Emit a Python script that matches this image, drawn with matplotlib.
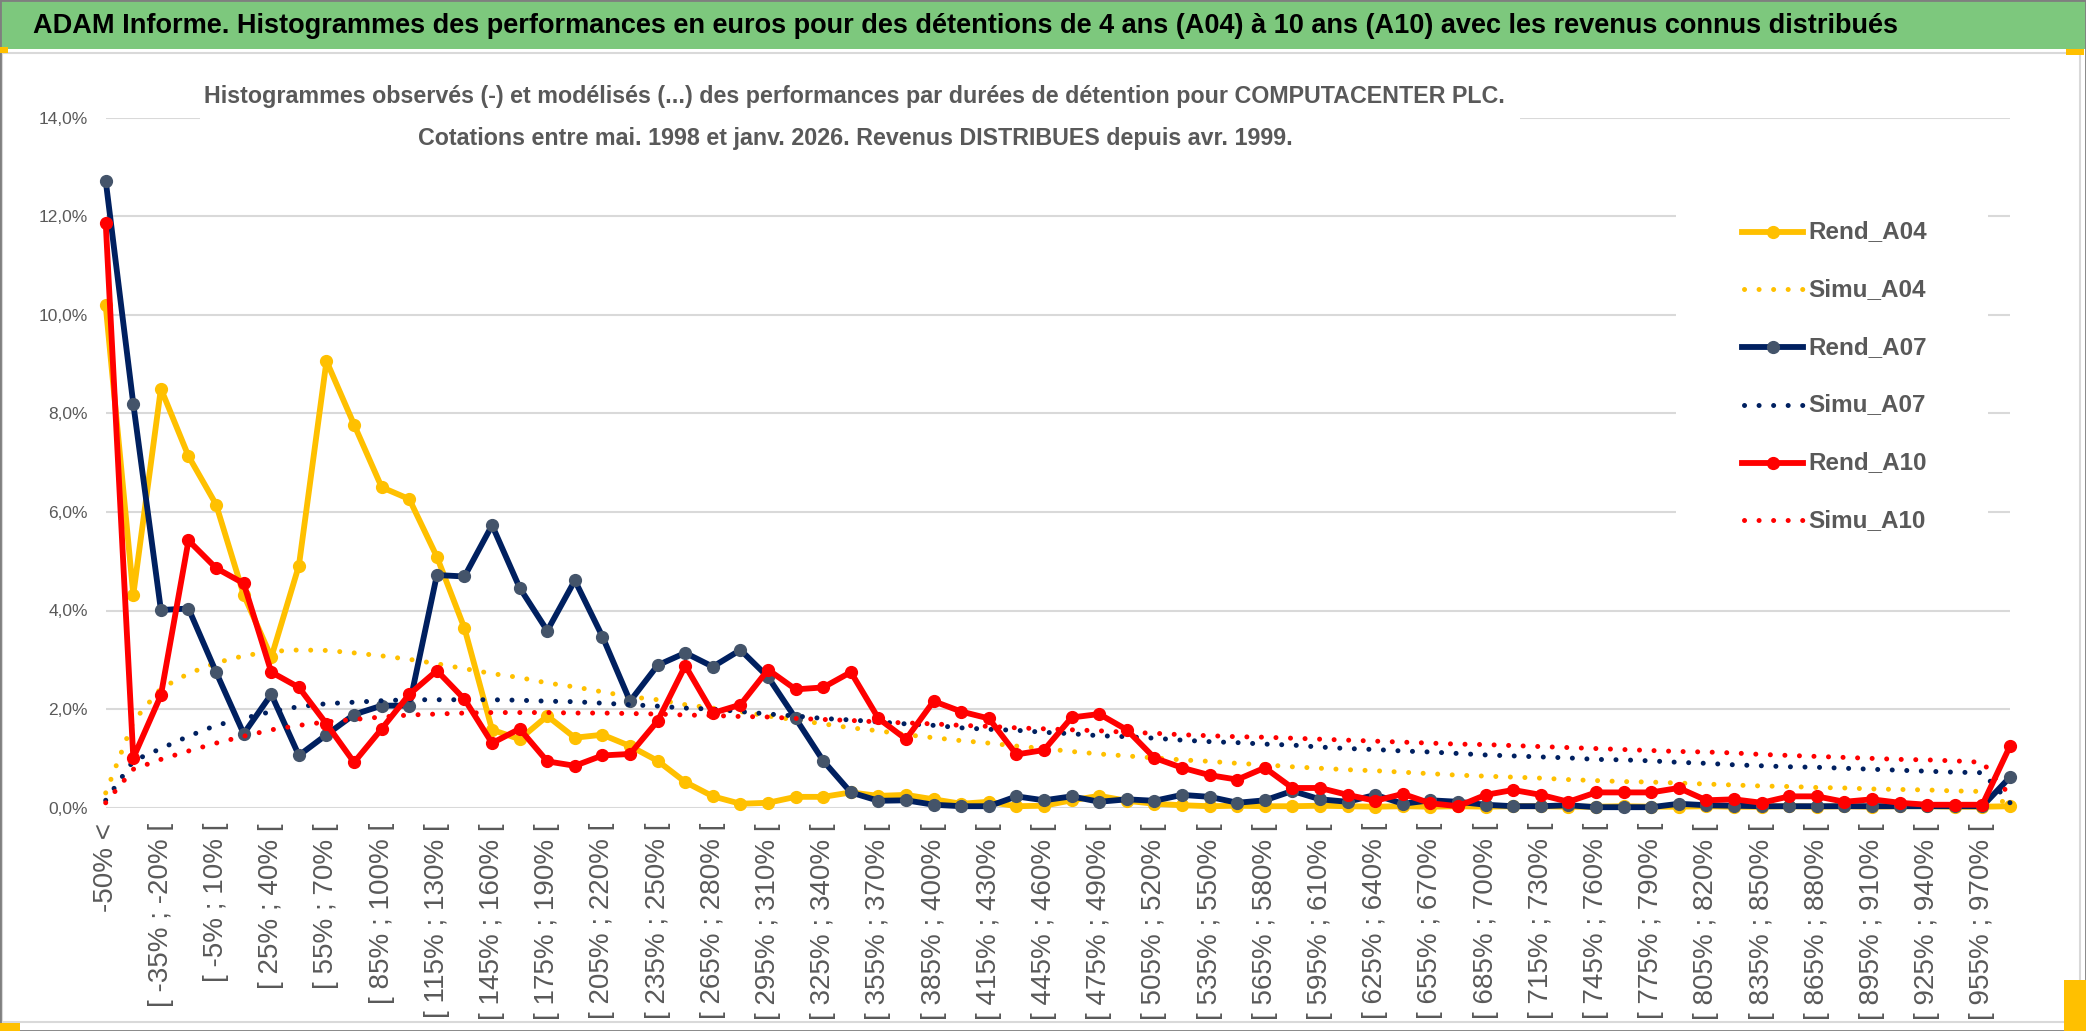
import matplotlib
matplotlib.use("Agg")
import numpy as np
import matplotlib.pyplot as plt
from matplotlib.lines import Line2D
from matplotlib.patches import Rectangle

# categories: "-50% <", then 15% wide buckets, last one open
labels = ["-50% <"] + ["[ %d%% ; %d%% [" % (a, a + 15) for a in range(-50, 970, 15)] + ["970% <"]

# values in %
rend_a04 = [10.19, 4.32, 8.50, 7.13, 6.15, 4.32, 3.05, 4.91, 9.06, 7.77,
            6.50, 6.26, 5.09, 3.64, 1.58, 1.39, 1.86, 1.42, 1.48, 1.25,
            0.95, 0.52, 0.23, 0.08, 0.10, 0.22, 0.22, 0.31, 0.24, 0.26,
            0.17, 0.08, 0.12, 0.03, 0.04, 0.15, 0.24, 0.14, 0.08, 0.05,
            0.03, 0.04, 0.03, 0.03, 0.04, 0.03, 0.02, 0.03, 0.02, 0.03,
            0.02, 0.03, 0.03, 0.02, 0.02, 0.03, 0.02, 0.02, 0.03, 0.02,
            0.02, 0.03, 0.02, 0.03, 0.02, 0.03, 0.03, 0.02, 0.02, 0.03]
simu_a04 = [0.30, 1.75, 2.42, 2.72, 2.94, 3.08, 3.17, 3.20, 3.19, 3.14,
            3.08, 3.01, 2.92, 2.82, 2.72, 2.64, 2.53, 2.45, 2.35, 2.25,
            2.19, 2.09, 2.02, 1.95, 1.86, 1.78, 1.70, 1.62, 1.56, 1.48,
            1.42, 1.36, 1.31, 1.25, 1.20, 1.14, 1.09, 1.05, 1.01, 0.97,
            0.94, 0.90, 0.87, 0.83, 0.80, 0.77, 0.75, 0.72, 0.69, 0.66,
            0.64, 0.62, 0.60, 0.57, 0.55, 0.53, 0.52, 0.50, 0.48, 0.46,
            0.44, 0.43, 0.41, 0.40, 0.38, 0.37, 0.36, 0.34, 0.33, 0.05]
rend_a07 = [12.72, 8.19, 4.01, 4.04, 2.75, 1.50, 2.30, 1.06, 1.48, 1.89,
            2.07, 2.07, 4.72, 4.69, 5.73, 4.46, 3.59, 4.61, 3.47, 2.16,
            2.89, 3.14, 2.86, 3.20, 2.65, 1.81, 0.95, 0.31, 0.14, 0.15,
            0.06, 0.03, 0.03, 0.23, 0.15, 0.23, 0.12, 0.17, 0.14, 0.26,
            0.22, 0.10, 0.15, 0.34, 0.17, 0.12, 0.26, 0.08, 0.15, 0.12,
            0.06, 0.03, 0.03, 0.05, 0.01, 0.01, 0.01, 0.08, 0.05, 0.04,
            0.03, 0.03, 0.03, 0.03, 0.03, 0.03, 0.03, 0.03, 0.03, 0.62]
simu_a07 = [0.15, 0.95, 1.20, 1.45, 1.67, 1.81, 1.95, 2.05, 2.11, 2.14,
            2.17, 2.19, 2.19, 2.19, 2.19, 2.18, 2.16, 2.15, 2.12, 2.09,
            2.06, 2.02, 2.00, 1.95, 1.90, 1.86, 1.81, 1.78, 1.74, 1.70,
            1.67, 1.62, 1.59, 1.57, 1.53, 1.50, 1.46, 1.44, 1.41, 1.37,
            1.34, 1.32, 1.29, 1.27, 1.23, 1.20, 1.18, 1.15, 1.13, 1.10,
            1.07, 1.05, 1.03, 1.01, 0.98, 0.97, 0.95, 0.92, 0.90, 0.87,
            0.85, 0.83, 0.82, 0.80, 0.78, 0.76, 0.74, 0.72, 0.71, 0.10]
rend_a10 = [11.87, 1.01, 2.28, 5.42, 4.86, 4.55, 2.75, 2.44, 1.70, 0.92,
            1.60, 2.30, 2.78, 2.20, 1.31, 1.60, 0.94, 0.85, 1.06, 1.09,
            1.76, 2.88, 1.92, 2.09, 2.80, 2.40, 2.44, 2.75, 1.81, 1.39,
            2.16, 1.95, 1.81, 1.08, 1.17, 1.83, 1.90, 1.58, 1.01, 0.81,
            0.66, 0.57, 0.81, 0.40, 0.40, 0.26, 0.14, 0.28, 0.09, 0.03,
            0.26, 0.36, 0.26, 0.12, 0.31, 0.31, 0.31, 0.40, 0.15, 0.17,
            0.10, 0.23, 0.23, 0.12, 0.17, 0.10, 0.06, 0.06, 0.06, 1.25]
simu_a10 = [0.10, 0.78, 0.98, 1.15, 1.31, 1.45, 1.58, 1.67, 1.74, 1.79,
            1.84, 1.88, 1.90, 1.92, 1.93, 1.93, 1.93, 1.92, 1.92, 1.91,
            1.90, 1.88, 1.87, 1.85, 1.84, 1.81, 1.79, 1.77, 1.74, 1.72,
            1.70, 1.67, 1.65, 1.62, 1.60, 1.58, 1.56, 1.53, 1.51, 1.48,
            1.46, 1.44, 1.43, 1.41, 1.39, 1.37, 1.35, 1.33, 1.31, 1.29,
            1.28, 1.26, 1.24, 1.22, 1.20, 1.18, 1.16, 1.14, 1.13, 1.11,
            1.08, 1.06, 1.04, 1.02, 1.00, 0.98, 0.97, 0.95, 0.92, 0.25]

series = [("Rend_A04", rend_a04, "#FFC000", "#FFC000", True),
          ("Simu_A04", simu_a04, "#FFC000", None, False),
          ("Rend_A07", rend_a07, "#002060", "#44546A", True),
          ("Simu_A07", simu_a07, "#002060", None, False),
          ("Rend_A10", rend_a10, "#FF0000", "#FF0000", True),
          ("Simu_A10", simu_a10, "#FF0000", None, False)]

title = ("ADAM Informe. Histogrammes des performances en euros pour des détentions "
         "de 4 ans (A04) à 10 ans (A10) avec les revenus connus distribués")
sub1 = ("Histogrammes observés (-) et modélisés (...) des performances par durées "
        "de détention pour COMPUTACENTER PLC.")
sub2 = "Cotations entre mai. 1998 et janv. 2026. Revenus DISTRIBUES depuis avr. 1999."

W, H = 2086, 1031
GREY = "#595959"
FONT = "Liberation Sans"
DOTS = (0, (0.01, 2.9))


def fx(px):
    return px / W


def fy(py):
    return 1 - py / H


fig = plt.figure(figsize=(W / 100, H / 100), dpi=100)

# frames and title band
fig.patches.append(Rectangle((fx(2), fy(1022)), fx(2080) - fx(2), fy(53) - fy(1022),
                             transform=fig.transFigure, fill=False,
                             edgecolor="#D9D9D9", lw=1.5))
fig.patches.append(Rectangle((0, fy(49)), 1, 49 / H, transform=fig.transFigure,
                             facecolor="#7DC87D", edgecolor="none"))
fig.patches.append(Rectangle((0, 0), 1, 1, transform=fig.transFigure, fill=False,
                             edgecolor="#7F7F7F", lw=2))
for (x0, y0, w, h) in [(0, 1023, 20, 8), (2064, 980, 22, 51), (0, 47, 8, 6), (2066, 49, 18, 6)]:
    fig.patches.append(Rectangle((fx(x0), fy(y0 + h)), w / W, h / H,
                                 transform=fig.transFigure, facecolor="#FFC000",
                                 edgecolor="none"))

ax = fig.add_axes([fx(105.7), fy(807.7), fx(2010) - fx(105.7), fy(117.5) - fy(807.7)])
x = np.arange(len(labels))

for name, vals, col, mcol, solid in series:
    if solid:
        ax.plot(x, vals, color=col, lw=4.2, marker="o", ms=8.5, mfc=mcol, mec=mcol,
                clip_on=False, zorder=3, solid_joinstyle="round")
    else:
        ax.plot(x, vals, color=col, lw=3.6, ls=DOTS, dash_capstyle="round",
                clip_on=False, zorder=3)

ax.set_xlim(0, len(labels) - 1)
ax.set_ylim(0, 14)
ax.set_yticks(np.arange(0, 15, 2))
ax.set_yticklabels([("%.1f%%" % v).replace(".", ",") for v in np.arange(0, 15, 2)],
                   fontsize=12.5, family=FONT, color=GREY)
ax.set_xticks(x[::2])
ax.set_xticklabels(labels[::2], rotation=90, fontsize=20, family=FONT,
                   color=GREY, va="top", ha="center")
ax.set_xticks(np.arange(0, len(labels), 4), minor=True)
ax.tick_params(axis="both", which="both", length=0)
ax.tick_params(axis="y", pad=13)
ax.tick_params(axis="x", pad=11)
ax.set_axisbelow(True)
ax.grid(axis="y", color="#D9D9D9", lw=1.5)
ax.grid(axis="x", which="minor", color="#D9D9D9", lw=1.5)
for s in ax.spines.values():
    s.set_visible(False)

# white boxes behind subtitle and legend
for (x0, y0, x1, y1) in [(200, 78, 1520, 160), (1676, 204, 1988, 552)]:
    ax.add_patch(Rectangle((fx(x0), fy(y1)), fx(x1) - fx(x0), fy(y0) - fy(y1),
                           transform=fig.transFigure, facecolor="white",
                           edgecolor="none", zorder=1, clip_on=False))


def fit(t, width):
    fig.canvas.draw()
    w = t.get_window_extent(fig.canvas.get_renderer()).width
    t.set_fontsize(t.get_fontsize() * width / w)


t = fig.text(fx(33), fy(26), title, fontsize=20, fontweight="bold", family=FONT,
             color="black", ha="left", va="center")
fit(t, 1870)
s1 = fig.text(fx(854), fy(97), sub1, fontsize=16, fontweight="bold", family=FONT,
              color=GREY, ha="center", va="center")
fit(s1, 1298)
s2 = fig.text(fx(855), fy(138), sub2, fontsize=16, fontweight="bold", family=FONT,
              color=GREY, ha="center", va="center")
s2.set_fontsize(s1.get_fontsize())

# legend
for k, (name, vals, col, mcol, solid) in enumerate(series):
    yy = fy(231.7 + k * 57.7)
    if solid:
        ln = Line2D([fx(1742), fx(1772.5), fx(1803)], [yy] * 3, color=col, lw=4.2,
                    marker="o", ms=8.5, mfc=mcol, mec=mcol, markevery=[1],
                    transform=fig.transFigure)
    else:
        ln = Line2D([fx(1744), fx(1803)], [yy] * 2, color=col, lw=3.6, ls=DOTS,
                    dash_capstyle="round", transform=fig.transFigure)
    fig.add_artist(ln)
    fig.text(fx(1808), yy, name, fontsize=17.5, fontweight="bold", family=FONT,
             color=GREY, ha="left", va="center")

fig.savefig("out.png", dpi=100)
